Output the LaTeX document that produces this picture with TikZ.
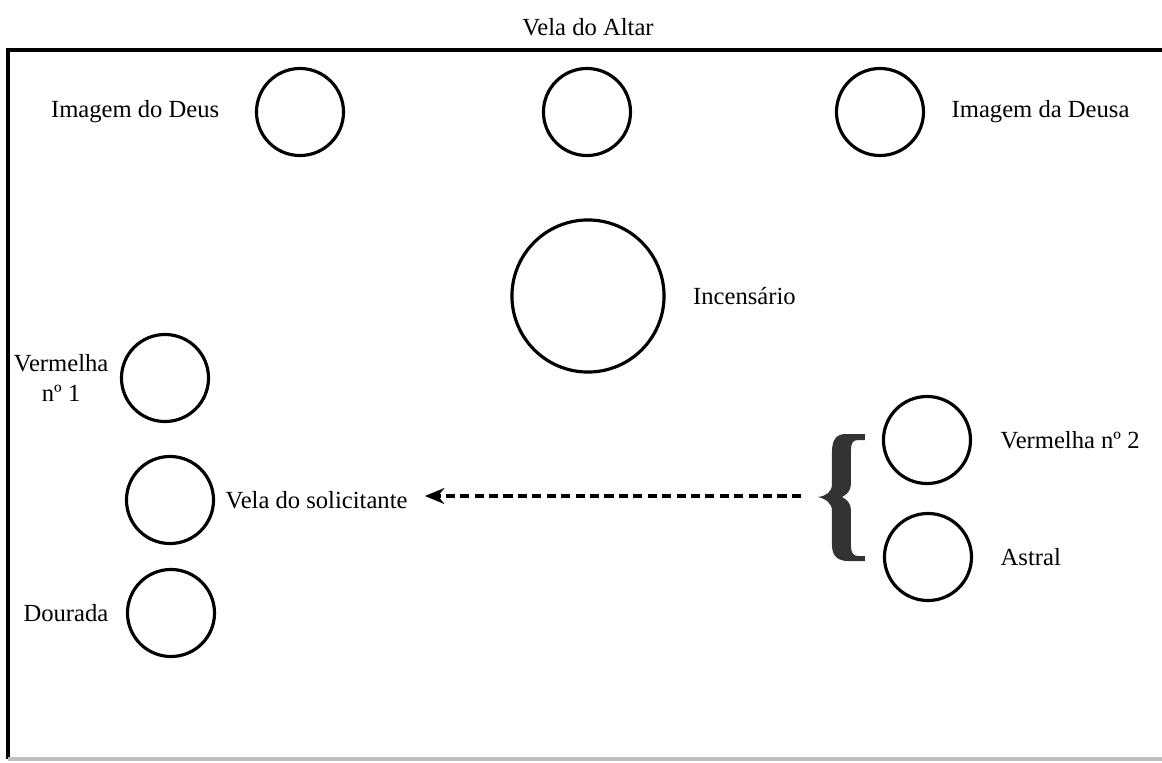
\documentclass[tikz,border=0pt]{standalone}
\usepackage{fontspec}
\setmainfont{Liberation Serif}
\usetikzlibrary{arrows.meta,positioning}
\begin{document}
\begin{tikzpicture}[x=0.01cm,y=-0.01cm,line width=0.9pt,
  vela/.style={draw,circle,inner sep=0pt,minimum size=0.87cm},
  lbl/.style={inner sep=0pt,font=\fontsize{7}{8.6}\selectfont,align=center},
  >={Stealth[length=5.5pt,width=4.5pt]}]
\useasboundingbox (0,0) rectangle (1162,763);
\draw (1170,50) -| (8,759);\draw[gray!50] (8,759) -- (1170,759);
\node[lbl] (altarlbl) at (588,27) {Vela do Altar};
% top row
\node[vela] (deus) at (300,112) {};
\node[vela] (altar) at (587,112) {};
\node[vela] (deusa) at (880,112) {};
\node[lbl,left=0.34cm of deus] (deuslbl) {Imagem do Deus};
\node[lbl,right=0.25cm of deusa] (deusalbl) {Imagem da Deusa};
\node[vela,minimum size=1.52cm] (incenso) at (588,296) {};
\node[lbl,right=0.26cm of incenso] (incensolbl) {Incensário};
% left column
\node[vela] (verm1) at (165,378) {};
\node[vela] (solic) at (170,500) {};
\node[vela] (dourada) at (171,613) {};
\node[lbl,left=0.1cm of verm1] (verm1lbl) {Vermelha\\nº 1};
\node[lbl,right=0.09cm of solic] (soliclbl) {Vela do solicitante};
\node[lbl,left=0.16cm of dourada] (douradalbl) {Dourada};
% right column
\node[vela] (verm2) at (927,440) {};
\node[vela] (astral) at (928,557) {};
\node[lbl,right=0.27cm of verm2] (verm2lbl) {Vermelha nº 2};
\node[lbl,right=0.26cm of astral] (astrallbl) {Astral};
\fill[black!80] (865,434) -- (846,434) .. controls (836,434) and (832,440) .. (832,452) -- (832,484)
  .. controls (832,492) and (826,496) .. (818,497) .. controls (826,499) and (832,503) .. (832,511)
  -- (832,545) .. controls (832,556) and (838,561) .. (848,561) -- (865,561) -- (865,556) -- (858,556)
  .. controls (853,556) and (851,552) .. (851,546) -- (851,510) .. controls (851,503) and (846,499) .. (842,497)
  .. controls (846,495) and (851,491) .. (851,484) -- (851,450) .. controls (851,443) and (853,440) .. (858,440)
  -- (865,440) -- cycle;
\coordinate (bracetip) at (801,496);
\draw[->,dash pattern=on 2.6pt off 1.5pt,line width=1pt,shorten >=4.5pt] (bracetip) -- (bracetip-|soliclbl.east);
\end{tikzpicture}
\end{document}
